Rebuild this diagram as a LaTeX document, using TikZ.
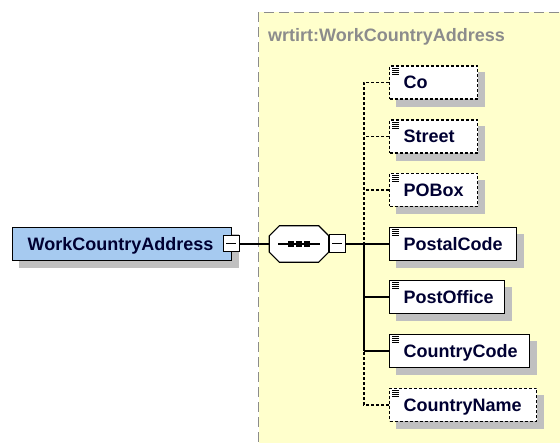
\documentclass[tikz,border=0pt]{standalone}
\usepackage{fontspec}
\setmainfont{Liberation Sans}
\usetikzlibrary{calc}
\pgfdeclarelayer{back}
\pgfdeclarelayer{shade}
\pgfsetlayers{back,shade,main}
\definecolor{navy}{RGB}{0,0,50}
\definecolor{grpfill}{RGB}{255,255,204}
\definecolor{grpline}{RGB}{140,140,140}
\definecolor{shd}{RGB}{192,192,192}
\definecolor{mainfill}{RGB}{166,202,240}
\tikzset{
  base/.style={line width=1.2pt, draw=black, inner sep=0pt, font=\fontsize{18}{20}\selectfont\bfseries, text=navy},
  elem/.style={base, fill=white, minimum height=33pt, anchor=west, align=left, inner xsep=14pt, text depth=0pt},
  optelem/.style={elem, dash pattern=on 3pt off 2pt},
  minusbox/.style={line width=1pt, draw=black, fill=white, inner sep=0pt, minimum width=16pt},
  conn/.style={line width=1.2pt},
  optconn/.style={line width=1.2pt, dash pattern=on 3pt off 2pt},
}
\newcommand{\docicon}[1]{%
  \foreach \k in {0,2,4,6}{\draw[line width=0.8pt] ($(#1.north west)+(3,3+\k)$) -- ++(7,0);}}
\newcommand{\boxshadow}[1]{%
  \begin{pgfonlayer}{shade}\fill[shd] ($(#1.north west)+(7,7)$) rectangle ($(#1.south east)+(7,7)$);\end{pgfonlayer}}
\begin{document}
\begin{tikzpicture}[x=1pt,y=-1pt]
\useasboundingbox (0,0) rectangle (560,443);
\clip (0,0) rectangle (560,443);
% group box
\begin{pgfonlayer}{back}
\node[draw=grpline, fill=grpfill, line width=1pt, dash pattern=on 10pt off 5pt,
  minimum width=330pt, minimum height=450pt, anchor=north west, inner sep=0pt] (grp) at (258,12) {};
\end{pgfonlayer}
\node[anchor=base west, inner sep=0pt, font=\fontsize{18}{20}\selectfont\bfseries, text=grpline] (title) at (268,42) {wrtirt:WorkCountryAddress};
% main element
\node[base, fill=mainfill, minimum height=33pt, anchor=west, align=left, inner xsep=15pt, text width=189pt, text depth=0pt] (main) at (12,244) {WorkCountryAddress};
\boxshadow{main}
\node[minusbox, minimum height=16pt] (mm) at (231,244) {};
\draw[line width=1pt] ($(mm.center)+(-5,0)$) -- ($(mm.center)+(5,0)$);
% sequence compositor
\node[minimum width=59pt, minimum height=36pt, inner sep=0pt] (seq) at (299,244) {};
\begin{pgfonlayer}{shade}
\fill[shd, shift={(7,7)}] ($(seq.north west)+(10,0)$) -- ($(seq.north east)+(-10,0)$) -- ($(seq.north east)+(0,10)$) -- ($(seq.south east)+(0,-10)$) -- ($(seq.south east)+(-10,0)$) -- ($(seq.south west)+(10,0)$) -- ($(seq.south west)+(0,-10)$) -- ($(seq.north west)+(0,10)$) -- cycle;
\end{pgfonlayer}
\draw[line width=1.2pt, fill=white] ($(seq.north west)+(10,0)$) -- ($(seq.north east)+(-10,0)$) -- ($(seq.north east)+(0,10)$) -- ($(seq.south east)+(0,-10)$) -- ($(seq.south east)+(-10,0)$) -- ($(seq.south west)+(10,0)$) -- ($(seq.south west)+(0,-10)$) -- ($(seq.north west)+(0,10)$) -- cycle;
\draw[line width=1.2pt] ($(seq.center)+(-21,0)$) -- ($(seq.center)+(21,0)$);
\foreach \dx in {-8,0,8}{\fill ($(seq.center)+(\dx-3,-3)$) rectangle ++(6,6);}
\node[minusbox, minimum height=18pt] (sm) at (337,244) {};
\draw[line width=1pt] ($(sm.center)+(-5,0)$) -- ($(sm.center)+(5,0)$);
% child elements
\node[optelem, text width=60pt] (co) at (389,82.5) {Co};
\node[optelem, text width=60pt] (st) at (389,136.5) {Street};
\node[optelem, text width=60pt] (pb) at (389,190) {POBox};
\node[elem, text width=99pt] (pc) at (389,244) {PostalCode};
\node[elem, text width=87pt] (po) at (389,297) {PostOffice};
\node[elem, text width=112pt] (cc) at (389,351) {CountryCode};
\node[optelem, text width=119pt] (cn) at (389,405) {CountryName};
\foreach \n in {co,st,pb,pc,po,cc,cn}{\docicon{\n}\boxshadow{\n}}
% connectors
\coordinate (spT) at (364,82.5);
\coordinate (sp) at (364,244);
\coordinate (spC) at (364,351);
\coordinate (spB) at (364,405);
\draw[conn] (mm.east) -- (seq.west);
\draw[conn] (sm.east) -- (pc.west);
\draw[conn] (sp) -- (spC);
\draw[conn] (po.west) -- (po.west -| sp);
\draw[conn] (cc.west) -- (spC);
\draw[optconn] (co.west) -- (spT) -- (sp);
\draw[optconn] (st.west) -- (st.west -| sp);
\draw[optconn] (pb.west) -- (pb.west -| sp);
\draw[optconn] (cn.west) -- (spB) -- (spC);
\end{tikzpicture}
\end{document}
